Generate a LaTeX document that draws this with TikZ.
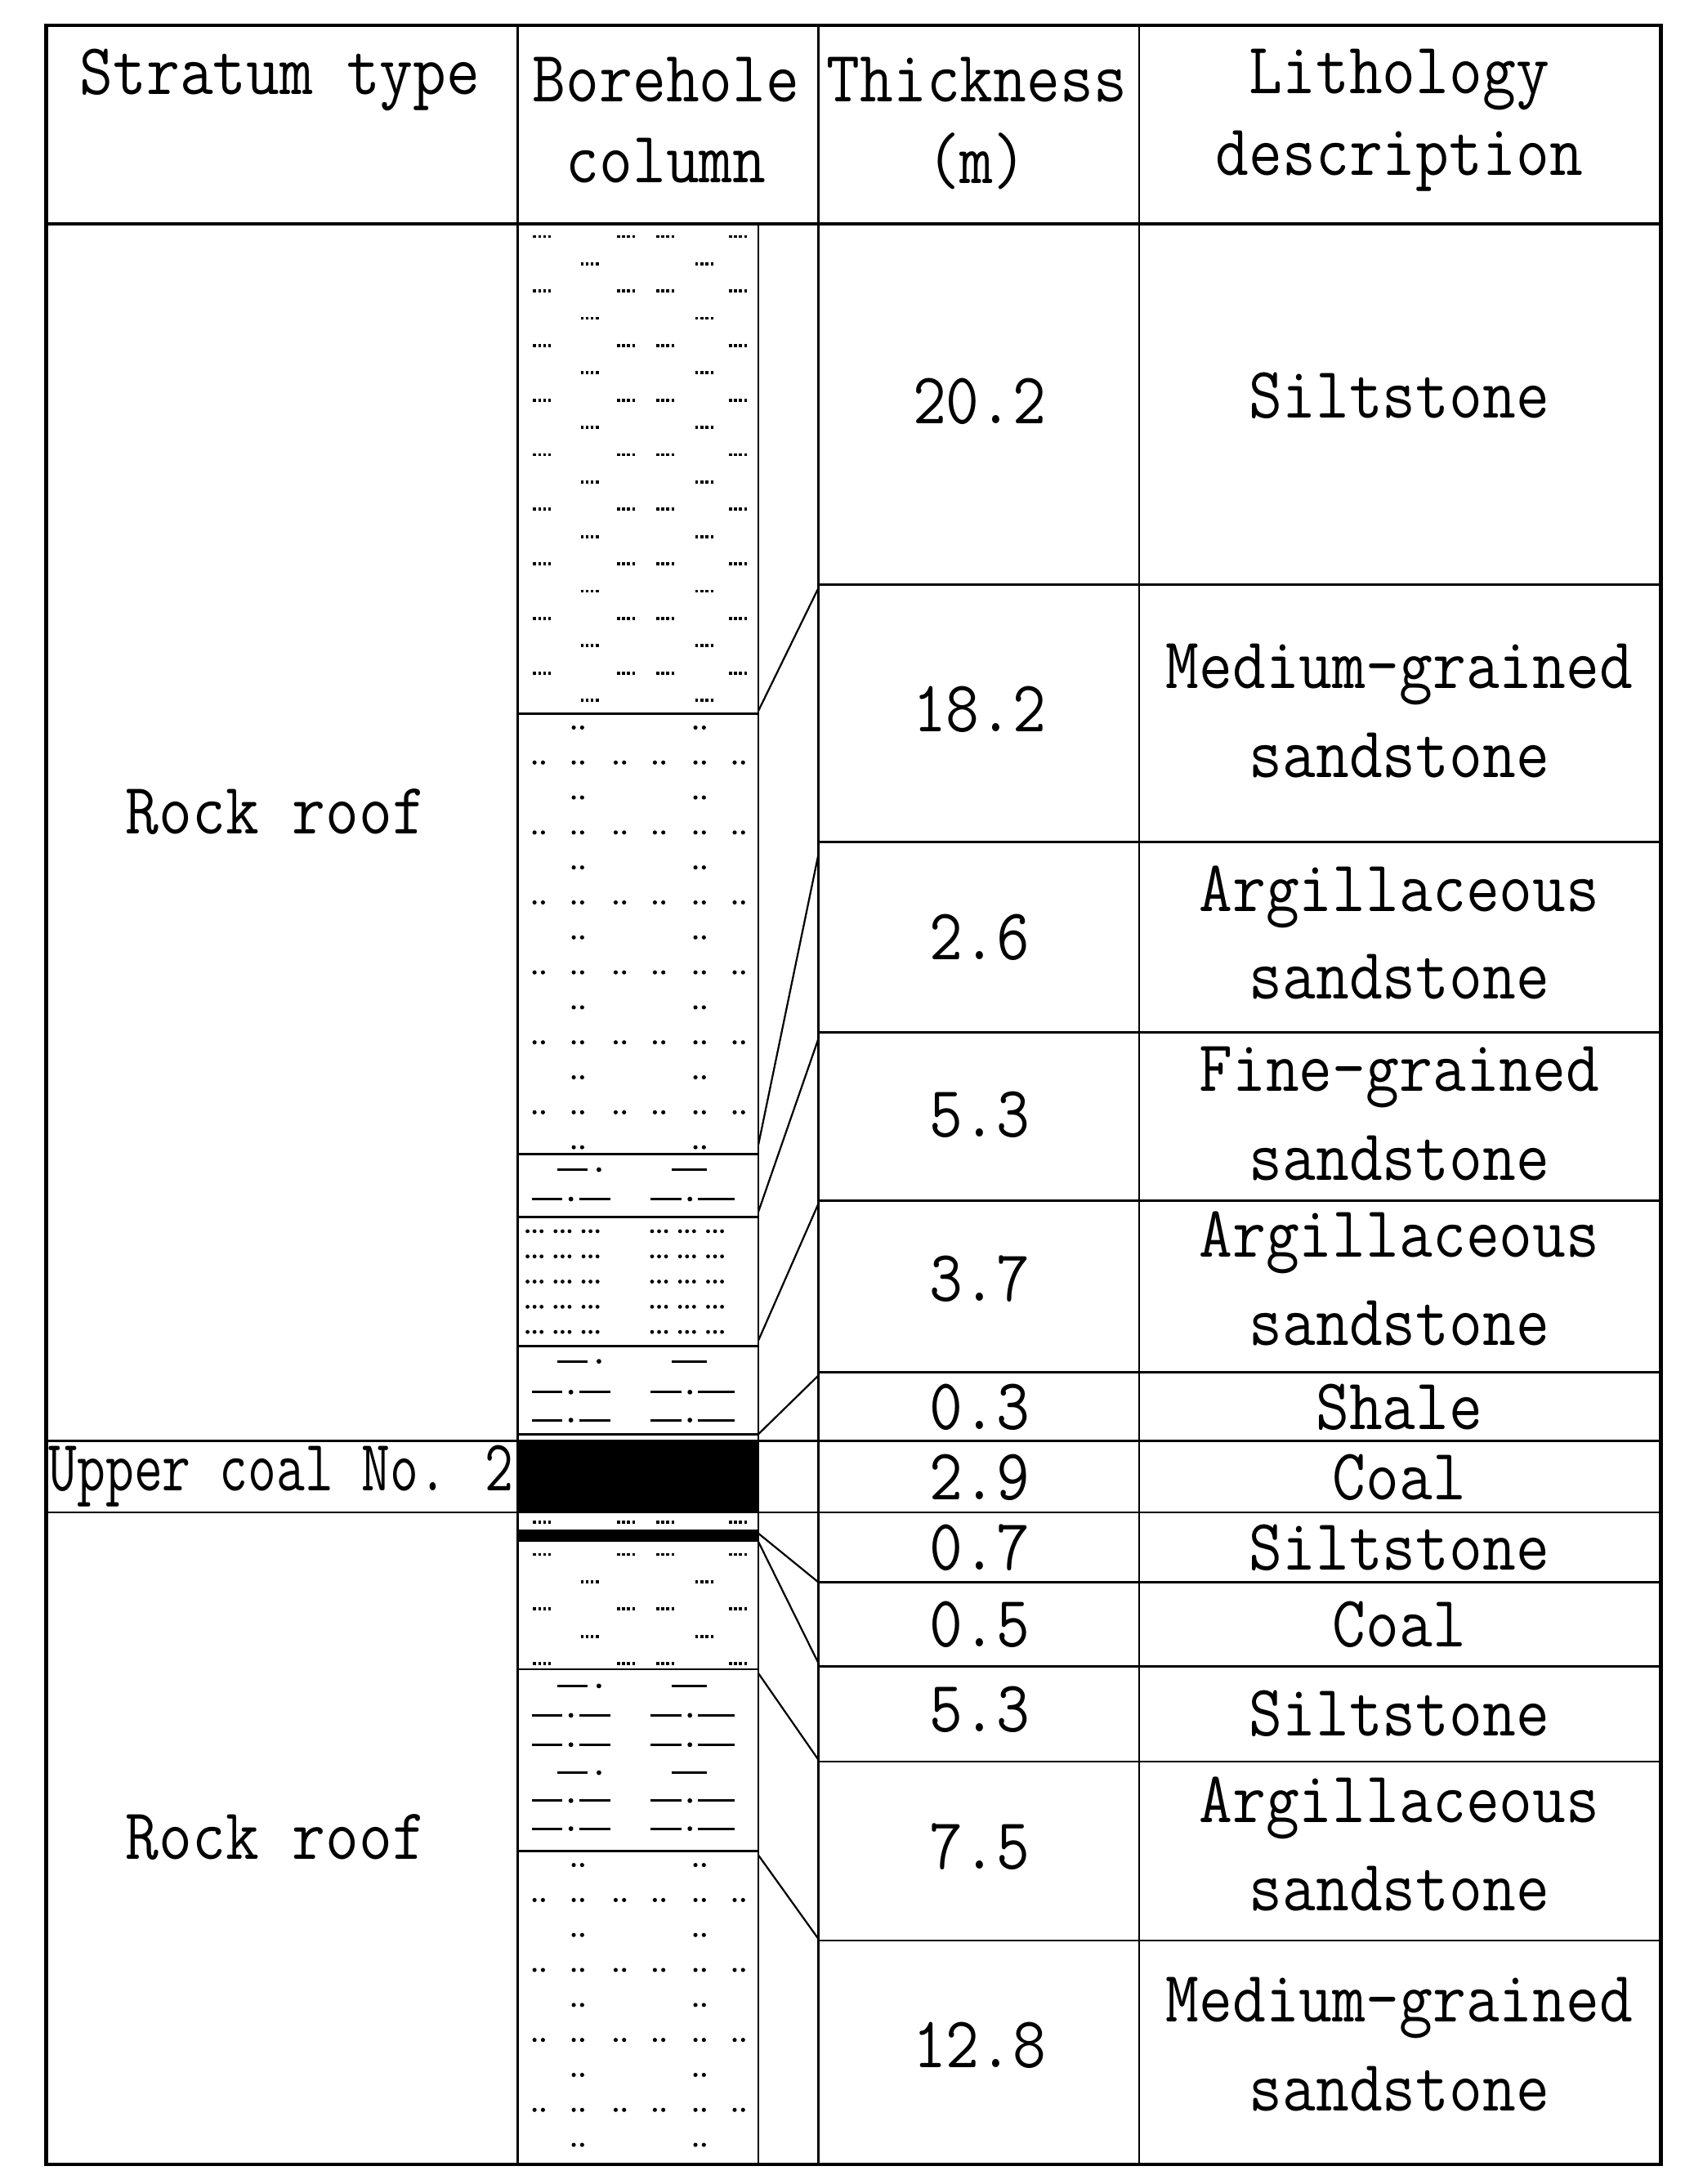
\documentclass[tikz,border=0pt]{standalone}
\usepackage{fontspec}
\newcommand\T[1]{\scalebox{0.89}[1]{#1}}
\tikzset{
  txt/.style={font=\ttfamily\fontsize{52}{56}\selectfont, inner sep=0pt, anchor=center},
  thick line/.style={line width=2.6pt},
  thin line/.style={line width=1.6pt},
  conn/.style={line width=1.3pt},
  dotd/.style={line width=2.2pt, dash pattern=on 2pt off 1.6pt},
  arg/.style={line width=1.8pt},
}
\newcommand\siltL[3]{%
\begin{scope}\clip (372,#1) rectangle (540,#3);
\foreach \i in {0,...,#2}{\pgfmathsetmacro\yy{#1+9+19.5*\i}
 \ifodd\i \foreach \x in {415,497}{\draw[dotd] (\x,\yy)--++(14,0);}
 \else \foreach \x in {381,441,469,521}{\draw[dotd] (\x,\yy)--++(14,0);}\fi}
\end{scope}}
\newcommand\medL[3]{%
\begin{scope}\clip (372,#1) rectangle (540,#3);
\foreach \i in {0,...,#2}{\pgfmathsetmacro\yy{#1+10+25*\i}
 \ifodd\i \foreach \x in {382,410,440,468,497,525}{\fill (\x,\yy) circle (1.5) (\x+6,\yy) circle (1.5);}
 \else \foreach \x in {410,497}{\fill (\x,\yy) circle (1.5) (\x+6,\yy) circle (1.5);}\fi}
\end{scope}}
\newcommand\argA[1]{\draw[arg] (398,#1)--(420,#1) (480,#1)--(505,#1); \fill (428,#1) circle (1.7);}
\newcommand\argB[1]{\draw[arg] (380,#1)--(402,#1) (414,#1)--(436,#1) (465,#1)--(487,#1) (499,#1)--(525,#1); \fill (408,#1) circle (1.7) (493,#1) circle (1.7);}
\begin{document}
\begin{tikzpicture}[x=1pt,y=-1pt]
\useasboundingbox (0,0) rectangle (1217,1561);
% patterns
\siltL{160}{17}{508}
\medL{510}{12}{823}
\argA{836}\argB{857}
\begin{scope}\clip (372,870) rectangle (540,960);
\foreach \yy in {880,898,916,934,952}{\foreach \x in {377,397,417,466,486,506}{\fill (\x,\yy) circle (1.4) (\x+5,\yy) circle (1.4) (\x+10,\yy) circle (1.4);}}
\end{scope}
\argA{973}\argB{995}\argB{1015}
\fill (370,1030) rectangle (542,1081);
\foreach \x in {381,441,469,521}{\draw[dotd] (\x,1088)--++(14,0);}
\fill (370,1094) rectangle (542,1101);
\siltL{1102}{4}{1191}
\argA{1205}\argB{1226}\argB{1247}\argA{1267}\argB{1287}\argB{1307}
\medL{1323}{8}{1545}
% grid
\draw[thick line] (33,18) rectangle (1187,1547);
\draw[thick line] (33,160) -- (1187,160);
\draw[thin line] (370,18)--(370,1547) (585,18)--(585,1547) (814,18)--(814,1547) (542,160)--(542,1547);
\foreach \y in {418,602,738,858,981,1131,1191,1259,1387}{\draw[thin line] (585,\y)--(1187,\y);}
\draw[thin line] (33,1030)--(1187,1030) (33,1081)--(1187,1081);
\foreach \y in {510,825,870,962,1025,1094,1101,1193,1323}{\draw[thin line] (370,\y)--(542,\y);}
% connectors
\foreach \a/\b [count=\k] in {508/420,818/610,866/742,958/860,1025/983,1096/1131,1102/1189,1196/1258,1326/1386}{
 \coordinate (l\k) at (542,\a); \coordinate (r\k) at (585,\b); \draw[conn] (l\k)--(r\k);}
% header text
\node[txt] (h1) at (200,57) {\T{Stratum type}};
\node[txt] (h2a) at (476,57) {\T{Borehole}};
\node[txt] (h2b) at (476,115) {\T{column}};
\node[txt] (h3a) at (698,57) {\T{Thickness}};
\node[txt] (h3b) at (698,115) {\T{(m)}};
\node[txt] (h4a) at (1000,57) {\T{Lithology}};
\node[txt] (h4b) at (1000,115) {\T{description}};
\node[txt] (s1) at (197,580) {\T{Rock roof}};
\node[txt] (s2) at (201,1055) {\scalebox{0.76}[1]{Upper coal No. 2}};
\node[txt] (s3) at (197,1313) {\T{Rock roof}};
\foreach \v/\y [count=\k] in {20.2/287,18.2/507,2.6/670,5.3/797,3.7/914,0.3/1006,2.9/1056,0.7/1106,0.5/1161,5.3/1222,7.5/1320,12.8/1462}
 {\node[txt] (t\k) at (700,\y) {\T{\v}};}
\foreach \v/\y [count=\k] in {Siltstone/283,Medium-grained/482,sandstone/540,Argillaceous/641,sandstone/698,Fine-grained/770,sandstone/828,Argillaceous/888,sandstone/946,Shale/1006,Coal/1056,Siltstone/1106,Coal/1161,Siltstone/1225,Argillaceous/1292,sandstone/1350,Medium-grained/1435,sandstone/1493}
 {\node[txt] (d\k) at (1000,\y) {\T{\v}};}
\end{tikzpicture}
\end{document}
